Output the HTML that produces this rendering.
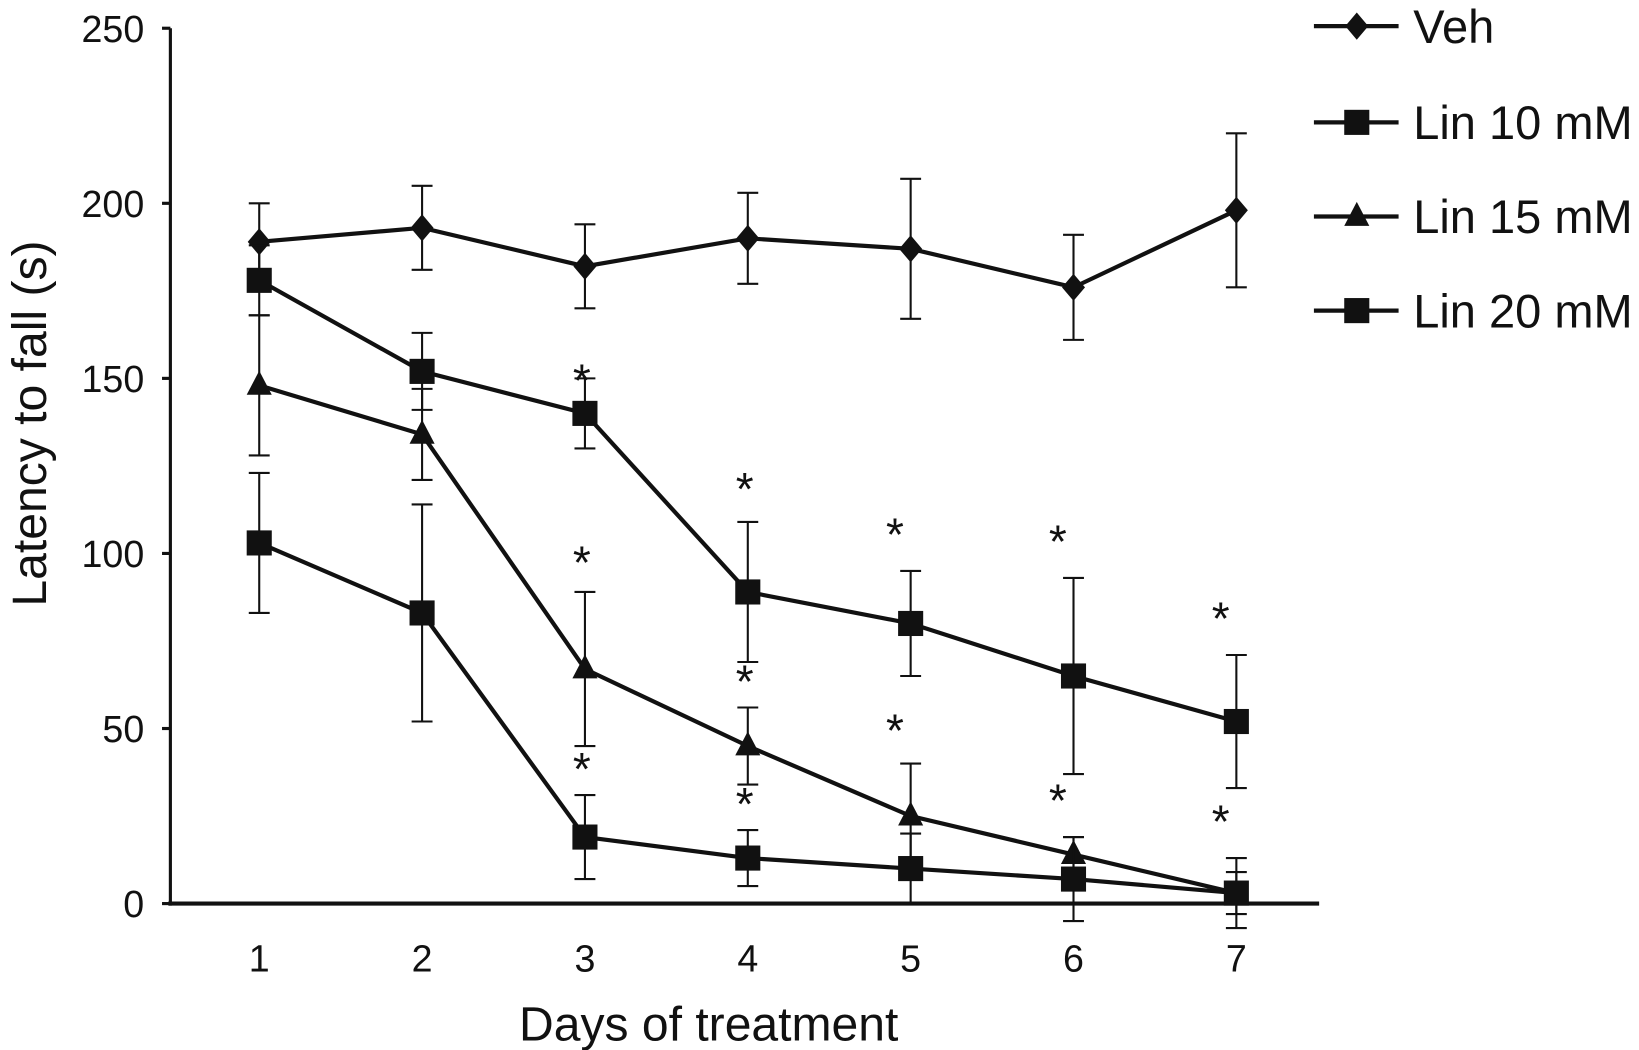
<!DOCTYPE html>
<html><head><meta charset="utf-8"><style>html,body{margin:0;padding:0;background:#fff}svg{display:block}</style></head>
<body>
<svg id="chart" width="1639" height="1050" viewBox="0 0 1568 1004" preserveAspectRatio="none" font-family="Liberation Sans, sans-serif">
<g id="plot"></g>
</svg>
<script>
const days=[1,2,3,4,5,6,7];
const yTicks=[0,50,100,150,200,250];
const seriesNames=["Veh","Lin 10 mM","Lin 15 mM","Lin 20 mM"];
const vehVals=[189,193,182,190,187,176,198];
const vehErr=[11,12,12,13,20,15,22];
const lin10Vals=[178,152,140,89,80,65,52];
const lin10Err=[10,11,10,20,15,28,19];
const lin15Vals=[148,134,67,45,25,14,3];
const lin15Err=[20,13,22,11,15,5,10];
const lin20Vals=[103,83,19,13,10,7,3];
const lin20Err=[20,31,12,8,10,12,6];
const starDays=[3,3,3,4,4,4,5,5,6,6,7,7];
const starVals=[152,100,41,121,66,31,108,52,106,32,84,26];
const NS='http://www.w3.org/2000/svg';
const g=document.getElementById('plot');
const X=d=>248+(d-1)*155.8;
const Y=v=>864-v*837/250;
function mk(t,a,p){const e=document.createElementNS(NS,t);for(const k in a)e.setAttribute(k,a[k]);(p||g).appendChild(e);return e;}
let ax=mk('line',{x1:163,y1:27,x2:163,y2:866,stroke:'#111','stroke-width':3});


ax=mk('line',{x1:161,y1:864,x2:1262,y2:864,stroke:'#111','stroke-width':4});


yTicks.forEach(v=>{
 mk('line',{x1:155,y1:Y(v),x2:163,y2:Y(v),stroke:'#111','stroke-width':3});
 const t=mk('text',{x:138,y:Y(v)+13,'text-anchor':'end','font-size':36,fill:'#111'});t.textContent=v;
 
 
});
days.forEach(d=>{
 const t=mk('text',{x:X(d),y:929,'text-anchor':'middle','font-size':36,fill:'#111'});t.textContent=d;
 
 
});
let t=mk('text',{x:678,y:995,'text-anchor':'middle','font-size':46,fill:'#111'});t.textContent='Days of treatment';


t=mk('text',{x:0,y:0,transform:'translate(44,405) rotate(-90)','text-anchor':'middle','font-size':46,fill:'#111'});t.textContent='Latency to fall (s)';


function marker(type,x,y,p){
 if(type==='diamond')return mk('polygon',{points:`${x},${y-13} ${x+11},${y} ${x},${y+13} ${x-11},${y}`,fill:'#111'},p);
 if(type==='square')return mk('rect',{x:x-12,y:y-12,width:24,height:24,fill:'#111'},p);
 return mk('polygon',{points:`${x},${y-14} ${x+12},${y+9} ${x-12},${y+9}`,fill:'#111'},p);
}
const all=[[vehVals,vehErr,'diamond','veh'],[lin10Vals,lin10Err,'square','lin10'],[lin15Vals,lin15Err,'triangle','lin15'],[lin20Vals,lin20Err,'square','lin20']];
all.forEach(([vals,err,type,nm])=>{
 const sg=mk('g',{});
 
 
 vals.forEach((v,i)=>{const x=X(days[i]);
  mk('line',{x1:x,y1:Y(v+err[i]),x2:x,y2:Y(v-err[i]),stroke:'#111','stroke-width':2},sg);
  mk('line',{x1:x-10,y1:Y(v+err[i]),x2:x+10,y2:Y(v+err[i]),stroke:'#111','stroke-width':2},sg);
  mk('line',{x1:x-10,y1:Y(v-err[i]),x2:x+10,y2:Y(v-err[i]),stroke:'#111','stroke-width':2},sg);});
 mk('polyline',{points:vals.map((v,i)=>X(days[i])+','+Y(v)).join(' '),fill:'none',stroke:'#111','stroke-width':4},sg);
 vals.forEach((v,i)=>{const m=marker(type,X(days[i]),Y(v),sg);
  
  });
});
starDays.forEach((d,i)=>{
 const off=d>=5?-15:-3;
 const s=mk('text',{x:X(d)+off,y:Y(starVals[i])+24,'text-anchor':'middle','font-size':44,fill:'#111'});s.textContent='*';
 
 
});
const types=['diamond','square','triangle','square'];
const ly=[25,117,207,297];
seriesNames.forEach((n,i)=>{
 const lg=mk('g',{});
 
 
 mk('line',{x1:1257,y1:ly[i],x2:1338,y2:ly[i],stroke:'#111','stroke-width':4},lg);
 marker(types[i],1298,ly[i],lg);
 const tt=mk('text',{x:1352,y:ly[i]+16,'font-size':45,fill:'#111'},lg);tt.textContent=n;
});
</script>
</body></html>
